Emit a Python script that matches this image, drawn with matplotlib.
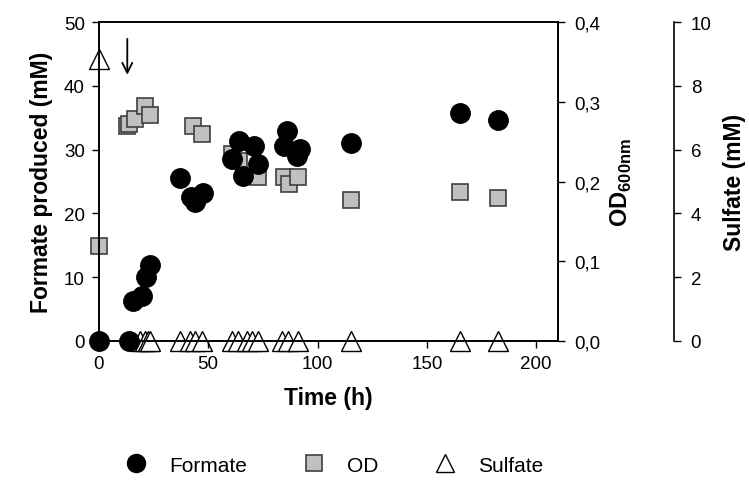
import matplotlib.pyplot as plt
from matplotlib.lines import Line2D

plt.rcParams['font.family'] = ['Liberation Sans', 'DejaVu Sans']
plt.rcParams['mathtext.fontset'] = 'custom'
plt.rcParams['mathtext.rm'] = 'Liberation Sans'
plt.rcParams['mathtext.bf'] = 'Liberation Sans:bold'

# formate (mM)
formate_t = [0, 14, 15.5, 19.5, 21.5, 23.3, 37, 42, 44, 47.5, 60.7, 64, 66, 71, 72.6,
             84.5, 86, 90.4, 92, 115.5, 165, 182.6]
formate_v = [0, 0, 6.3, 7.0, 10.0, 11.9, 25.5, 22.6, 21.8, 23.2, 28.5, 31.3, 25.8, 30.6, 27.7,
             30.6, 32.9, 29.0, 30.1, 31.0, 35.7, 34.6]

# OD600
od_t = [0, 12.8, 14, 16.5, 21, 23.3, 43, 47, 61, 64, 72.6, 84.5, 87, 91.3, 115.5, 165, 182.6]
od_v = [0.119, 0.270, 0.272, 0.278, 0.295, 0.283, 0.270, 0.260, 0.234, 0.226, 0.206,
        0.206, 0.197, 0.206, 0.177, 0.187, 0.179]

# sulfate (mM)
sulf_t = [0, 18.7, 21, 22.4, 23.3, 37, 41.5, 44, 47, 61, 63.5, 67.6, 70, 72.6,
          83.6, 86.3, 91, 115.5, 165, 182.6]
sulf_v = [8.85] + [0] * 19

x_ticks = [0, 50, 100, 150, 200]
y_ticks = [0, 10, 20, 30, 40, 50]
od_ticks = [0.0, 0.1, 0.2, 0.3, 0.4]
od_tick_labels = ['0,0', '0,1', '0,2', '0,3', '0,4']
sulf_ticks = [0, 2, 4, 6, 8, 10]

fig = plt.figure(figsize=(7.49, 4.81), dpi=100)
ax = fig.add_axes([0.132, 0.289, 0.613, 0.663])
ax2 = ax.twinx()
ax3 = ax.twinx()

ax.set_zorder(3)
ax.patch.set_visible(False)
ax2.set_zorder(2)
ax3.set_zorder(1)

ax2.plot(od_t, od_v, 's', ms=12, mfc='#c0c0c0', mec='#404040', mew=1.2, clip_on=False)
ax3.plot(sulf_t, sulf_v, '^', ms=14, mfc='white', mec='black', mew=1.0, clip_on=False)
ax.plot(formate_t, formate_v, 'o', ms=14, color='black', clip_on=False)

ax.annotate('', xy=(13, 41.3), xytext=(13, 47.8),
            arrowprops=dict(arrowstyle='->', lw=1.3, color='black', mutation_scale=18))

ax.set_xlim(0, 210)
ax.set_ylim(0, 50)
ax2.set_ylim(0, 0.4)
ax3.set_ylim(0, 10)

ax.set_xticks(x_ticks)
ax.set_yticks(y_ticks)
ax2.set_yticks(od_ticks)
ax2.set_yticklabels(od_tick_labels)
ax3.set_yticks(sulf_ticks)

for a in (ax, ax2, ax3):
    a.tick_params(labelsize=13.5, direction='out', length=5, width=1, pad=5)
    for s in a.spines.values():
        s.set_linewidth(1.2)
ax2.tick_params(pad=7)
ax3.tick_params(pad=7)

ax3.spines['right'].set_position(('axes', 1.2527))
for s in ('top', 'left', 'bottom'):
    ax3.spines[s].set_visible(False)

ax.set_xlabel('Time (h)', fontsize=16.5, fontweight='bold', labelpad=10)
ax.set_ylabel('Formate produced (mM)', fontsize=16.5, fontweight='bold', labelpad=8)
ax2.set_ylabel(r'$\mathbf{OD}_{\mathbf{600nm}}$', fontsize=17, labelpad=6)
ax3.set_ylabel('Sulfate (mM)', fontsize=16.5, fontweight='bold', labelpad=8)

handles = [
    Line2D([], [], ls='', marker='o', ms=13, color='black'),
    Line2D([], [], ls='', marker='s', ms=11, mfc='#c0c0c0', mec='#404040', mew=1.2),
    Line2D([], [], ls='', marker='^', ms=13, mfc='white', mec='black', mew=1.0),
]
fig.legend(handles, ['Formate', 'OD', 'Sulfate'], loc='center', ncol=3,
           bbox_to_anchor=(0.445, 1 - 466 / 481), frameon=False, fontsize=15,
           handlelength=1.2, handletextpad=1.0, columnspacing=2.6, borderpad=0)

fig.savefig('out.png', dpi=100)
